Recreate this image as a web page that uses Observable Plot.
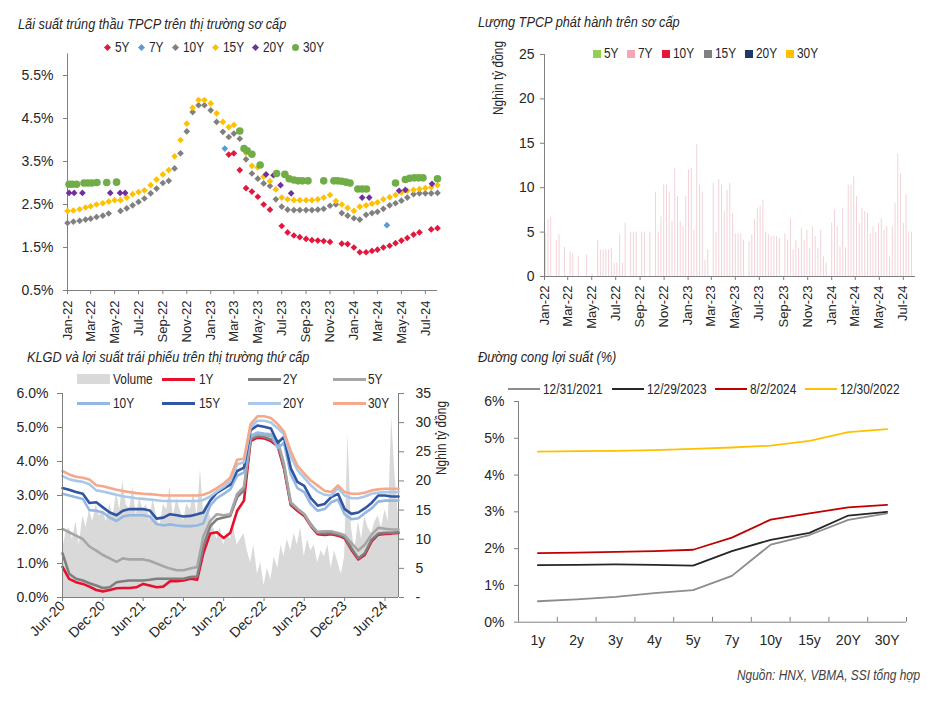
<!DOCTYPE html>
<html><head><meta charset="utf-8">
<script src="https://cdn.jsdelivr.net/npm/d3@7"></script>
<script src="https://cdn.jsdelivr.net/npm/@observablehq/plot@0.6"></script>
<style>
body{margin:0;background:#fff;}
#root{position:relative;width:948px;height:702px;overflow:hidden;font-family:"Liberation Sans Narrow","Liberation Sans",Arial,sans-serif;color:#262626;background:#fff;}
.abs{position:absolute;white-space:nowrap;}
#root svg g[aria-label$="axis tick"]{stroke:#808080;}
#root svg.rot g[aria-label="x-axis tick label"]{font-size:13px;}
</style></head><body><div id="root"></div>
<script>
// ---------------- DATA ----------------
// Panel 1: primary auction yields (semi-monthly grid Jan 2022 .. Aug 2024, 63 slots)
const p1Series = ["5Y","7Y","10Y","15Y","20Y","30Y"];
const p1Colors = ["#e3173e","#5b9bd5","#808080","#ffc000","#7030a0","#70ad47"];
const p1_10Y = [2.07,2.10,2.12,2.15,2.17,2.21,2.24,2.29,null,2.35,
  2.41,2.48,2.56,2.64,2.76,2.87,3.00,3.05,3.34,3.69,
  4.20,4.65,4.81,4.81,4.69,4.42,4.19,4.07,4.15,4.03,
  3.55,3.22,3.10,2.99,2.93,2.62,2.45,2.38,2.37,2.37,
  2.37,2.37,2.38,2.40,2.47,2.50,2.30,2.24,2.18,2.15,
  2.26,2.30,2.33,2.40,2.48,2.53,2.59,2.66,2.74,2.76,
  2.76,2.76,2.77];
const p1_15Y = [2.35,2.36,2.39,2.43,2.46,2.50,2.53,2.57,2.60,2.60,
  2.66,2.74,2.79,2.83,2.95,3.08,3.20,3.30,3.62,4.00,
  4.38,4.75,4.93,4.93,4.85,4.62,4.42,4.30,4.35,4.20,
  3.70,3.40,3.36,3.15,3.04,2.85,2.66,2.62,2.60,2.60,
  2.60,2.60,2.62,2.66,2.72,2.58,2.50,2.42,2.35,2.45,
  2.48,2.52,2.55,2.62,2.67,2.72,2.78,2.82,2.84,2.86,
  2.88,2.90,2.95];
const p1_5Y = [["2023-02-16",3.66],["2023-03-01",3.69],["2023-03-16",3.30],["2023-04-01",2.88],["2023-04-16",2.80],
  ["2023-05-01",2.68],["2023-05-16",2.50],["2023-06-01",2.38],["2023-07-01",2.00],["2023-07-16",1.85],
  ["2023-08-01",1.78],["2023-08-16",1.74],["2023-09-01",1.70],["2023-09-16",1.67],["2023-10-01",1.66],
  ["2023-10-16",1.65],["2023-11-01",1.63],["2023-12-01",1.59],["2023-12-16",1.58],["2024-01-01",1.50],
  ["2024-01-16",1.39],["2024-02-01",1.39],["2024-02-16",1.42],["2024-03-01",1.45],["2024-03-16",1.50],
  ["2024-04-01",1.54],["2024-04-16",1.60],["2024-05-01",1.66],["2024-05-16",1.72],["2024-06-01",1.80],
  ["2024-06-16",1.85],["2024-07-16",1.92],["2024-08-01",1.95]];
const p1_7Y = [["2023-02-06",3.80],["2024-03-25",2.02]];
const p1_20Y = [["2022-01-05",2.77],["2022-01-18",2.77],["2022-02-08",2.77],["2022-04-20",2.77],["2022-05-15",2.77],
  ["2022-05-28",2.77],["2023-05-22",3.20],["2023-06-10",3.18],["2023-06-28",2.95],["2023-07-25",2.76],
  ["2024-01-22",2.66],["2024-02-09",2.66],["2024-04-25",2.82],["2024-05-11",2.84],["2024-07-18",2.98]];
const p1_30Y = [["2022-01-05",2.97],["2022-01-13",2.97],["2022-01-24",2.97],["2022-02-12",3.00],["2022-02-22",3.00],
  ["2022-03-04",3.00],["2022-03-17",3.01],["2022-04-11",3.01],["2022-05-06",3.02],["2023-03-16",4.21],
  ["2023-03-27",3.80],["2023-04-04",3.75],["2023-04-16",3.67],["2023-05-07",3.42],["2023-06-18",3.22],
  ["2023-07-09",3.20],["2023-07-20",3.10],["2023-08-01",3.07],["2023-08-12",3.05],["2023-08-23",3.05],
  ["2023-09-06",3.05],["2023-10-16",3.05],["2023-11-11",3.05],["2023-11-21",3.05],["2023-12-01",3.04],
  ["2023-12-12",3.02],["2023-12-22",3.00],["2024-01-11",2.86],["2024-01-22",2.86],["2024-02-02",2.86],
  ["2024-04-16",3.00],["2024-05-11",3.08],["2024-05-22",3.11],["2024-06-03",3.12],["2024-06-14",3.12],
  ["2024-06-25",3.12],["2024-08-01",3.10]];
const p1YTicks = [0.5,1.5,2.5,3.5,4.5,5.5];

// Panel 2: weekly primary issuance (thousand bn VND), weeks from 3 Jan 2022
const p2Series = ["5Y","7Y","10Y","15Y","20Y","30Y"];
const p2Colors = ["#92d050","#f4a7b6","#e3173e","#808080","#1f3864","#ffc000"];
const p2Weekly = [4.8,6.4,6.7,0,4.1,4.7,0,3.3,0,2.8, 2.6,0,2.2,0,0,2.4,0,0.3,0,4.1,
  3.0,3.0,3.0,3.0,3.2,1.5,1.5,4.7,1.5,6.0, 0,5.0,5.0,5.0,0,5.0,5.0,0,5.0,0,
  9.5,5.0,6.7,10.3,10.3,9.5,6.2,12.2,9.0,6.2, 5.6,9.0,12.0,12.2,5.2,14.9,10.3,9.5,1.8,3.0,
  0,10.5,5.0,10.9,10.3,7.3,9.7,10.5,7.1,4.8, 4.8,4.8,4.1,0,3.9,4.7,6.4,7.7,7.9,8.6,
  5.0,4.7,4.5,4.5,4.5,4.3,0,4.8,4.1,6.5, 3.0,4.1,3.2,5.4,4.1,5.2,3.2,5.6,4.5,3.2,
  5.2,2.2,1.5,0,6.0,7.5,5.6,3.3,7.7,3.2, 10.3,10.3,11.2,9.0,6.0,7.7,7.3,7.1,4.8,5.6,
  5.0,6.0,6.5,5.2,5.6,2.2,5.6,8.2,13.8,11.6, 6.0,9.2,5.0,5.0];
const p2YTicks = [0,5,10,15,20,25];

// Panel 3: secondary yields (monthly, Jun 2020 .. Aug 2024) and volume (semi-monthly)
const p3Series = ["1Y","2Y","5Y","10Y","15Y","20Y","30Y"];
const p3Colors = ["#e8112d","#7f7f7f","#a6a6a6","#95b8e0","#2f55a4","#a9c8ea","#f4a98a"];
const p3_1Y = [0.90,0.55,0.45,0.40,0.32,0.22,0.18,0.22,0.27,0.28, 0.28,0.30,0.40,0.35,0.30,0.32,0.48,0.48,0.50,0.55,
  0.52,1.30,1.88,1.92,1.75,1.90,2.55,2.85,4.60,4.70, 4.68,4.60,4.45,3.80,2.72,2.55,2.40,2.10,1.86,1.84,
  1.86,1.82,1.74,1.40,1.12,1.25,1.65,1.85,1.87,1.88, 1.90];
const p3_2Y = [1.30,0.70,0.55,0.50,0.42,0.35,0.28,0.30,0.45,0.48, 0.50,0.50,0.50,0.52,0.55,0.55,0.55,0.55,0.55,0.60,
  0.62,1.50,2.10,2.30,2.35,2.40,2.95,3.15,4.65,4.75, 4.72,4.65,4.50,3.85,2.75,2.60,2.45,2.15,1.90,1.88,
  1.90,1.85,1.78,1.45,1.15,1.30,1.70,1.88,1.90,1.90, 1.92];
const p3_5Y = [2.02,1.92,1.82,1.72,1.50,1.38,1.25,1.15,1.05,1.15, 1.12,1.12,1.12,1.08,1.00,0.92,0.85,0.80,0.80,0.85,
  0.90,1.80,2.25,2.45,2.42,2.45,3.05,3.25,4.72,4.80, 4.78,4.75,4.60,3.95,2.80,2.62,2.45,2.12,1.93,1.95,
  1.95,1.90,1.83,1.60,1.38,1.55,1.85,2.05,2.02,2.00, 2.00];
const p3_10Y = [3.05,3.00,2.95,2.90,2.57,2.55,2.50,2.35,2.25,2.38, 2.42,2.42,2.42,2.38,2.16,2.12,2.15,2.12,2.10,2.10,
  2.12,2.18,2.70,2.92,3.05,3.18,3.58,3.68,4.75,4.85, 4.82,4.80,4.40,4.55,3.62,3.22,3.10,2.75,2.55,2.60,
  2.80,2.88,2.45,2.30,2.33,2.48,2.62,2.82,2.85,2.85, 2.85];
const p3_15Y = [3.22,3.17,3.10,3.05,2.78,2.80,2.65,2.50,2.42,2.55, 2.60,2.60,2.60,2.56,2.32,2.35,2.45,2.42,2.38,2.40,
  2.45,2.50,2.85,3.08,3.20,3.32,3.72,3.82,4.92,5.06, 5.02,4.97,4.55,4.72,3.80,3.40,3.28,2.92,2.70,2.75,
  2.95,3.05,2.60,2.46,2.50,2.62,2.78,3.00,3.00,2.97, 2.97];
const p3_20Y = [3.57,3.48,3.43,3.40,3.33,3.15,3.12,3.07,3.02,2.98, 2.95,2.92,2.90,2.88,2.86,2.84,2.84,2.84,2.84,2.84,
  2.84,2.87,2.97,3.12,3.25,3.42,3.92,3.98,5.00,5.20, 5.20,5.15,4.98,4.80,4.15,3.75,3.52,3.30,3.12,3.02,
  3.00,3.22,3.00,2.92,2.92,2.97,3.05,3.08,3.10,3.10, 3.10];
const p3_30Y = [3.72,3.62,3.55,3.52,3.47,3.30,3.27,3.22,3.17,3.13, 3.10,3.07,3.05,3.04,3.02,3.00,3.00,3.00,3.00,3.00,
  3.00,3.02,3.10,3.22,3.35,3.52,4.05,4.08,5.10,5.33, 5.33,5.28,5.10,4.88,4.30,3.88,3.64,3.44,3.29,3.14,
  3.10,3.30,3.10,3.05,3.05,3.08,3.15,3.18,3.20,3.20, 3.20];
const p3Volume = [8,11,12,10,13,9,14,12,15,13, 16,14,15,13,16,14,18,15,20,16,
  15,19,14,17,15,16,13,17,14,12, 16,15,19,14,17,15,13,16,15,18,
  14,22,15,16,14,12,10,12,9,11, 10,12,9,10,11,8,6,9,4,6,
  2,5,3,7,5,9,7,10,8,11, 9,12,7,10,8,9,6,8,7,9,
  5,8,6,4,7,28,12,8,13,10, 14,12,11,13,14,12,15,13,31,21,
  14];
const p3YTicks = [0,1,2,3,4,5,6];
const p3VolTicks = [0,5,10,15,20,25,30,35];

// Panel 4: yield curves
const p4Tenors = ["1y","2y","3y","4y","5y","7y","10y","15y","20Y","30Y"];
const p4Series = ["12/31/2021","12/29/2023","8/2/2024","12/30/2022"];
const p4Colors = ["#8c8c8c","#262626","#c00000","#ffc000"];
const p4_2021 = [0.57,0.62,0.69,0.79,0.87,1.26,2.11,2.37,2.78,2.96];
const p4_2023 = [1.55,1.56,1.57,1.56,1.54,1.93,2.24,2.43,2.90,3.00];
const p4_2024 = [1.88,1.89,1.91,1.93,1.97,2.30,2.79,2.96,3.12,3.19];
const p4_2022 = [4.64,4.65,4.66,4.68,4.71,4.75,4.80,4.93,5.17,5.25];
const p4YTicks = [0,1,2,3,4,5,6];

// ---------------- HELPERS ----------------
const FONT = '"Liberation Sans Narrow","Liberation Sans",Arial,sans-serif';
const AX = "#808080";
const SX = 0.85;
const STYLE = {fontFamily: FONT, fontSize: "14px", color: "#262626", background: "transparent", overflow: "visible"};
const root = document.getElementById("root");
function mount(el, left, top, cls){ el.style.position="absolute"; el.style.left=left+"px"; el.style.top=top+"px"; if(cls) el.classList.add(cls); root.appendChild(el); }
function txt(s, x, cy, size, o={}){
  const d=document.createElement("div"); d.className="abs"; d.textContent=s;
  d.style.left=x+"px"; d.style.top=(cy-size*0.6)+"px"; d.style.fontSize=size+"px"; d.style.lineHeight=(size*1.2)+"px";
  d.style.transform="scaleX("+SX+")"; d.style.transformOrigin="0 50%";
  if(o.italic) d.style.fontStyle="italic"; if(o.color) d.style.color=o.color;
  root.appendChild(d); return d;
}
function vtxt(s, cx, cy, size){
  const d=document.createElement("div"); d.className="abs"; d.textContent=s;
  d.style.left=cx+"px"; d.style.top=cy+"px"; d.style.fontSize=size+"px"; d.style.lineHeight="1";
  d.style.transform="translate(-50%,-50%) rotate(-90deg) scaleX("+SX+")"; root.appendChild(d); return d;
}
function box(x,y,w,h,color,o={}){
  const d=document.createElement("div"); d.className="abs";
  Object.assign(d.style,{left:x+"px",top:y+"px",width:w+"px",height:h+"px",background:color});
  if(o.rot) d.style.transform="rotate(45deg)"; if(o.round) d.style.borderRadius="50%";
  root.appendChild(d); return d;
}
const fmtMon = d3.utcFormat("%b-%y");
const toRows = (pairs, s) => pairs.map(([d,v]) => ({date: new Date(d), value: v, s}));
const gridRows = (vals, dates, s) => vals.map((v,i)=>({date: dates[i], value: v, s})).filter(r => r.value != null);

// ---------------- PANEL 1 ----------------
const p1Grid = p1_10Y.map((_,i) => new Date(Date.UTC(2022, Math.floor(i/2), i%2 ? 16 : 1)));
const p1Dom = [new Date("2022-01-01"), new Date("2024-08-01")];
const p1Data = {
  "5Y": toRows(p1_5Y,"5Y"), "7Y": toRows(p1_7Y,"7Y"),
  "10Y": gridRows(p1_10Y,p1Grid,"10Y"), "15Y": gridRows(p1_15Y,p1Grid,"15Y"),
  "20Y": toRows(p1_20Y,"20Y"), "30Y": toRows(p1_30Y,"30Y")
};
const plot1 = Plot.plot({
  width: 465, height: 300, marginLeft: 67, marginRight: 28, marginTop: 13.5, marginBottom: 50,
  style: STYLE,
  x: {type: "utc", domain: p1Dom, ticks: d3.utcMonth.every(2).range(p1Dom[0], new Date("2024-07-02")),
      tickFormat: fmtMon, tickRotate: -90, tickSize: 4, tickPadding: 6, label: null},
  y: {domain: [0.5, 6.0], ticks: p1YTicks, tickFormat: d => d.toFixed(1) + "%", tickSize: 4, tickPadding: 10, label: null},
  marks: [
    Plot.ruleX([p1Dom[0]], {stroke: AX}),
    Plot.ruleY([0.5], {stroke: AX}),
    ...p1Series.map((s,i) => Plot.dot(p1Data[s], {x: "date", y: "value",
        symbol: s === "30Y" ? "circle" : "diamond2", r: s === "30Y" ? 3.8 : 3.0, fill: p1Colors[i], stroke: "none"}))
  ]
});
mount(plot1, 0, 40, "rot");
txt("Lãi suất trúng thầu TPCP trên thị trường sơ cấp", 18, 23.5, 15, {italic: true});
[[107.7,115],[141.7,149],[175,182.7],[215,222.7],[255,262.7],[295,302.7]].forEach(([sx,tx],i)=>{
  if (p1Series[i] === "30Y") box(sx-3.5, 47.3-3.5, 7, 7, p1Colors[i], {round: true});
  else box(sx-2.5, 47.3-2.5, 5, 5, p1Colors[i], {rot: true});
  txt(p1Series[i], tx, 47.3, 14);
});

// ---------------- PANEL 2 ----------------
const p2Dom = [new Date("2022-01-01"), new Date("2024-08-01")];
const p2Rows = p2Weekly.map((v,w) => ({date: new Date(Date.UTC(2022,0,3 + 7*w)), value: v})).filter(r => r.value > 0);
const plot2 = Plot.plot({
  width: 478, height: 300, marginLeft: 74, marginRight: 33, marginTop: 14, marginBottom: 64,
  style: STYLE,
  x: {type: "utc", domain: p2Dom, ticks: d3.utcMonth.every(2).range(p2Dom[0], new Date("2024-07-02")),
      tickFormat: fmtMon, tickRotate: -90, tickSize: 4, tickPadding: 5, label: null},
  y: {domain: [0, 25], ticks: p2YTicks, tickSize: 4, tickPadding: 6, label: null},
  marks: [
    Plot.ruleX(p2Rows, {x: "date", y1: 0, y2: "value", stroke: "#f1d3d8", strokeWidth: 1}),
    Plot.ruleX([p2Dom[0]], {stroke: AX}),
    Plot.ruleY([0], {stroke: AX})
  ]
});
mount(plot2, 470, 40, "rot");
txt("Lượng TPCP phát hành trên sơ cấp", 478, 22, 15, {italic: true});
vtxt("Nghìn tỷ đồng", 498, 78, 14);
[[593,604],[627,638],[662,673],[704,715],[745,756],[786,797]].forEach(([sx,tx],i)=>{
  box(sx, 50, 7.5, 7.5, p2Colors[i]);
  txt(p2Series[i], tx, 53.7, 14);
});

// ---------------- PANEL 3 ----------------
const p3Dom = [new Date("2020-06-01"), new Date("2024-08-01")];
const p3Months = p3_1Y.map((_,k) => new Date(Date.UTC(2020, 5 + k, 1)));
const p3VolRows = p3Volume.map((v,j) => ({date: new Date(Date.UTC(2020, 5 + Math.floor(j/2), j%2 ? 16 : 1)), value: v}));
const p3Vals = {"1Y":p3_1Y,"2Y":p3_2Y,"5Y":p3_5Y,"10Y":p3_10Y,"15Y":p3_15Y,"20Y":p3_20Y,"30Y":p3_30Y};
const p3Ticks = d3.utcMonth.range(p3Dom[0], new Date("2024-06-02")).filter(d => d.getUTCMonth() % 6 === 5);
const p3Common = {width: 470, height: 362, marginLeft: 62, marginRight: 72, marginTop: 53, marginBottom: 105, style: STYLE};
const plot3v = Plot.plot({
  ...p3Common,
  x: {type: "utc", domain: p3Dom, axis: null},
  y: {domain: [0, 35], axis: "right", ticks: p3VolTicks, tickFormat: d => d === 0 ? "-" : String(d), tickSize: 5, tickPadding: 12, label: null},
  marks: [
    Plot.areaY(p3VolRows, {x: "date", y: "value", fill: "#d9d9d9"}),
    Plot.ruleX([p3Dom[1]], {stroke: AX})
  ]
});
mount(plot3v, 0, 340);
const plot3 = Plot.plot({
  ...p3Common,
  x: {type: "utc", domain: p3Dom, ticks: p3Ticks,
      tickFormat: fmtMon, tickRotate: -45, tickSize: 4, tickPadding: 2, label: null},
  y: {domain: [0, 6], ticks: p3YTicks, tickFormat: d => d.toFixed(1) + "%", tickSize: 5, tickPadding: 9, label: null},
  marks: [
    ...p3Series.map((s,i) => Plot.line(p3Vals[s].map((v,k)=>({date: p3Months[k], value: v})),
        {x: "date", y: "value", stroke: p3Colors[i], strokeWidth: 2.6})),
    Plot.ruleX([p3Dom[0]], {stroke: AX}),
    Plot.ruleY([0], {stroke: AX})
  ]
});
mount(plot3, 0, 340);
txt("KLGD và lợi suất trái phiếu trên thị trường thứ cấp", 27, 357, 15, {italic: true});
vtxt("Nghìn tỷ đồng", 441, 438, 14);
box(77, 374.3, 33, 10, "#d9d9d9"); txt("Volume", 113, 379.3, 14);
[[162,199,"1Y",0],[247.7,283,"2Y",1],[332.7,368,"5Y",2]].forEach(([lx,tx,s,i])=>{ box(lx,377.8,33,3,p3Colors[i]); txt(s,tx,379.3,14); });
[[77,113,"10Y",3],[162,199,"15Y",4],[247.7,283,"20Y",5],[332.7,368,"30Y",6]].forEach(([lx,tx,s,i])=>{ box(lx,401.8,33,3,p3Colors[i]); txt(s,tx,403.3,14); });

// ---------------- PANEL 4 ----------------
const p4Vals = [p4_2021, p4_2023, p4_2024, p4_2022];
const p4Idx = p4Tenors.map((_,i) => i);
const p4Bounds = p4Tenors.map((_,i) => i - 0.5).concat([p4Tenors.length - 0.5]);
const plot4 = Plot.plot({
  width: 478, height: 362, marginLeft: 48, marginRight: 42, marginTop: 61, marginBottom: 80.3,
  style: STYLE,
  x: {domain: [-0.5, p4Tenors.length - 0.5], ticks: p4Idx, tickFormat: i => p4Tenors[i], tickSize: 0, tickPadding: 13, label: null},
  y: {domain: [0, 6], ticks: p4YTicks, tickFormat: d => d + "%", tickSize: 4, tickPadding: 10, label: null},
  marks: [
    Plot.ruleX(p4Bounds, {y1: 0, y2: 0.13, stroke: AX}),
    Plot.ruleX([-0.5], {stroke: AX}),
    Plot.ruleY([0], {stroke: AX}),
    ...p4Series.map((s,i) => Plot.line(p4Vals[i].map((v,k)=>({t: k, value: v})),
        {x: "t", y: "value", stroke: p4Colors[i], strokeWidth: 1.8}))
  ]
});
mount(plot4, 470, 340);
txt("Đường cong lợi suất (%)", 478, 357, 15, {italic: true});
[[508,543],[612,647],[715,750],[805,840]].forEach(([lx,tx],i)=>{ box(lx,388.3,32,2,p4Colors[i]); txt(p4Series[i],tx,389.3,14); });
txt("Nguồn: HNX, VBMA, SSI tổng hợp", 737, 675, 14, {italic: true, color: "#404040"});
</script></body></html>
